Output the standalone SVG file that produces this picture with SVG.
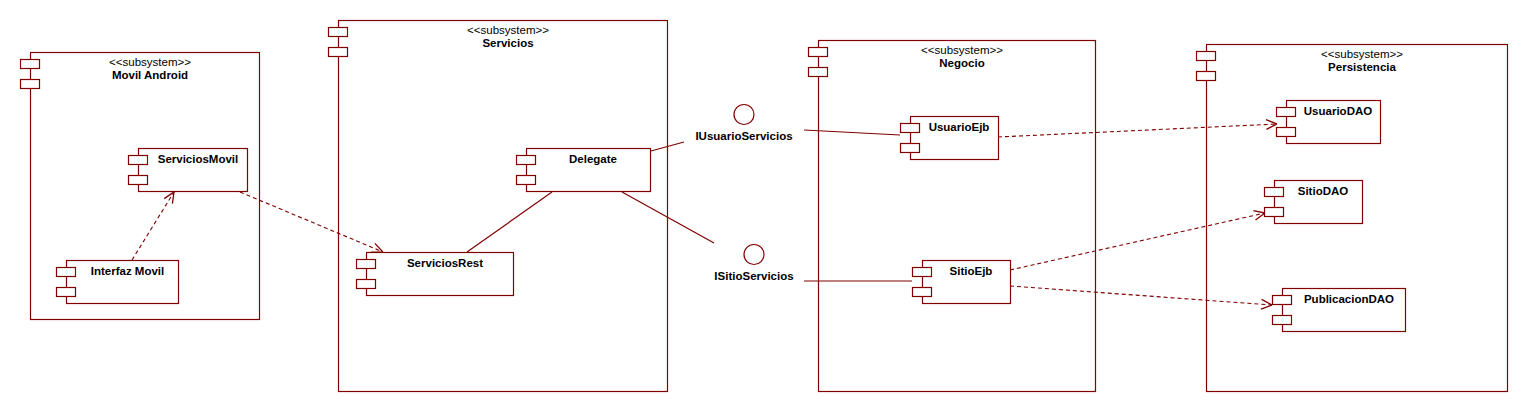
<svg xmlns="http://www.w3.org/2000/svg" width="1528" height="412" viewBox="0 0 1528 412">
<style>
.b{fill:#fff;stroke:#800000;stroke-width:1.2}
.t{fill:#fff;stroke:#800000;stroke-width:1.2}
.st{font-family:"Liberation Sans",Arial,sans-serif;font-size:11.5px;fill:#000;text-anchor:middle}
.nm{font-family:"Liberation Sans",Arial,sans-serif;font-size:11.5px;font-weight:bold;fill:#000;text-anchor:middle}
.ln{fill:none;stroke:#800000;stroke-width:1.2}
.dp{fill:none;stroke:#800000;stroke-width:1.1;stroke-dasharray:4,3;marker-end:url(#arr)}
</style>
<defs>
<marker id="arr" markerUnits="userSpaceOnUse" markerWidth="12" markerHeight="12" viewBox="0 0 10 10" refX="10" refY="5" orient="auto">
<path d="M1,1 L10,5 L1,9" fill="none" stroke="#800000" stroke-width="1.1"/>
</marker>
</defs>
<rect width="1528" height="412" fill="#fff"/>
<g id="sub-movil">
<rect class="b" x="30.5" y="52.5" width="229" height="267"/>
<rect class="t" x="20.5" y="59.5" width="19" height="9"/>
<rect class="t" x="20.5" y="79.5" width="19" height="9"/>
<text class="st" x="150" y="66">&lt;&lt;subsystem&gt;&gt;</text>
<text class="nm" x="150" y="79">Movil Android</text>
</g>
<g id="sub-servicios">
<rect class="b" x="338.5" y="20.5" width="329" height="371"/>
<rect class="t" x="328.5" y="27.5" width="19" height="9"/>
<rect class="t" x="328.5" y="47.5" width="19" height="9"/>
<text class="st" x="508" y="34">&lt;&lt;subsystem&gt;&gt;</text>
<text class="nm" x="508" y="47">Servicios</text>
</g>
<g id="sub-negocio">
<rect class="b" x="818.5" y="40.5" width="277" height="351"/>
<rect class="t" x="808.5" y="47.5" width="19" height="9"/>
<rect class="t" x="808.5" y="67.5" width="19" height="9"/>
<text class="st" x="962" y="54">&lt;&lt;subsystem&gt;&gt;</text>
<text class="nm" x="962" y="67">Negocio</text>
</g>
<g id="sub-persistencia">
<rect class="b" x="1206.5" y="44.5" width="301" height="347"/>
<rect class="t" x="1196.5" y="51.5" width="19" height="9"/>
<rect class="t" x="1196.5" y="71.5" width="19" height="9"/>
<text class="st" x="1362" y="58">&lt;&lt;subsystem&gt;&gt;</text>
<text class="nm" x="1362" y="71">Persistencia</text>
</g>
<g id="ServiciosMovil">
<rect class="b" x="138.5" y="148.5" width="109" height="43"/>
<rect class="t" x="128.5" y="155.5" width="19" height="9"/>
<rect class="t" x="128.5" y="175.5" width="19" height="9"/>
<text class="nm" x="198" y="163">ServiciosMovil</text>
</g>
<g id="InterfazMovil">
<rect class="b" x="66.5" y="260.5" width="112" height="43"/>
<rect class="t" x="56.5" y="267.5" width="19" height="9"/>
<rect class="t" x="56.5" y="287.5" width="19" height="9"/>
<text class="nm" x="127.5" y="275">Interfaz Movil</text>
</g>
<g id="Delegate">
<rect class="b" x="526.5" y="148.5" width="124" height="43"/>
<rect class="t" x="516.5" y="155.5" width="19" height="9"/>
<rect class="t" x="516.5" y="175.5" width="19" height="9"/>
<text class="nm" x="593" y="163">Delegate</text>
</g>
<g id="ServiciosRest">
<rect class="b" x="366.5" y="252.5" width="147" height="43"/>
<rect class="t" x="356.5" y="259.5" width="19" height="9"/>
<rect class="t" x="356.5" y="279.5" width="19" height="9"/>
<text class="nm" x="445" y="267">ServiciosRest</text>
</g>
<g id="IUsuarioServicios">
<circle cx="744" cy="114.5" r="10" fill="#fff" stroke="#800000" stroke-width="1.2"/>
<text class="nm" x="744" y="140">IUsuarioServicios</text>
</g>
<g id="ISitioServicios">
<circle cx="754" cy="254.5" r="10" fill="#fff" stroke="#800000" stroke-width="1.2"/>
<text class="nm" x="754" y="280">ISitioServicios</text>
</g>
<g id="UsuarioEjb">
<rect class="b" x="910.5" y="116.5" width="88" height="43"/>
<rect class="t" x="900.5" y="123.5" width="19" height="9"/>
<rect class="t" x="900.5" y="143.5" width="19" height="9"/>
<text class="nm" x="959" y="131">UsuarioEjb</text>
</g>
<g id="SitioEjb">
<rect class="b" x="922.5" y="260.5" width="88" height="43"/>
<rect class="t" x="912.5" y="267.5" width="19" height="9"/>
<rect class="t" x="912.5" y="287.5" width="19" height="9"/>
<text class="nm" x="971" y="275">SitioEjb</text>
</g>
<g id="UsuarioDAO">
<rect class="b" x="1286.5" y="100.5" width="94" height="43"/>
<rect class="t" x="1276.5" y="107.5" width="19" height="9"/>
<rect class="t" x="1276.5" y="127.5" width="19" height="9"/>
<text class="nm" x="1338" y="115">UsuarioDAO</text>
</g>
<g id="SitioDAO">
<rect class="b" x="1274.5" y="180.5" width="88" height="43"/>
<rect class="t" x="1264.5" y="187.5" width="19" height="9"/>
<rect class="t" x="1264.5" y="207.5" width="19" height="9"/>
<text class="nm" x="1323" y="195">SitioDAO</text>
</g>
<g id="PublicacionDAO">
<rect class="b" x="1282.5" y="288.5" width="123" height="43"/>
<rect class="t" x="1272.5" y="295.5" width="19" height="9"/>
<rect class="t" x="1272.5" y="315.5" width="19" height="9"/>
<text class="nm" x="1349" y="303">PublicacionDAO</text>
</g>
<g id="connectors">
<path class="dp" d="M132,260 L174,192"/>
<path class="dp" d="M240,192 L383,252"/>
<path class="ln" d="M552,192 L467,252"/>
<path class="ln" d="M651,151 L684,142"/>
<path class="ln" d="M622,192 L714,243"/>
<path class="ln" d="M804,130 L900,135"/>
<path class="ln" d="M804,281 L912,281"/>
<path class="dp" d="M998,137 L1277,124"/>
<path class="dp" d="M1010,270 L1265,213"/>
<path class="dp" d="M1010,286 L1272,305"/>
</g>
</svg>
